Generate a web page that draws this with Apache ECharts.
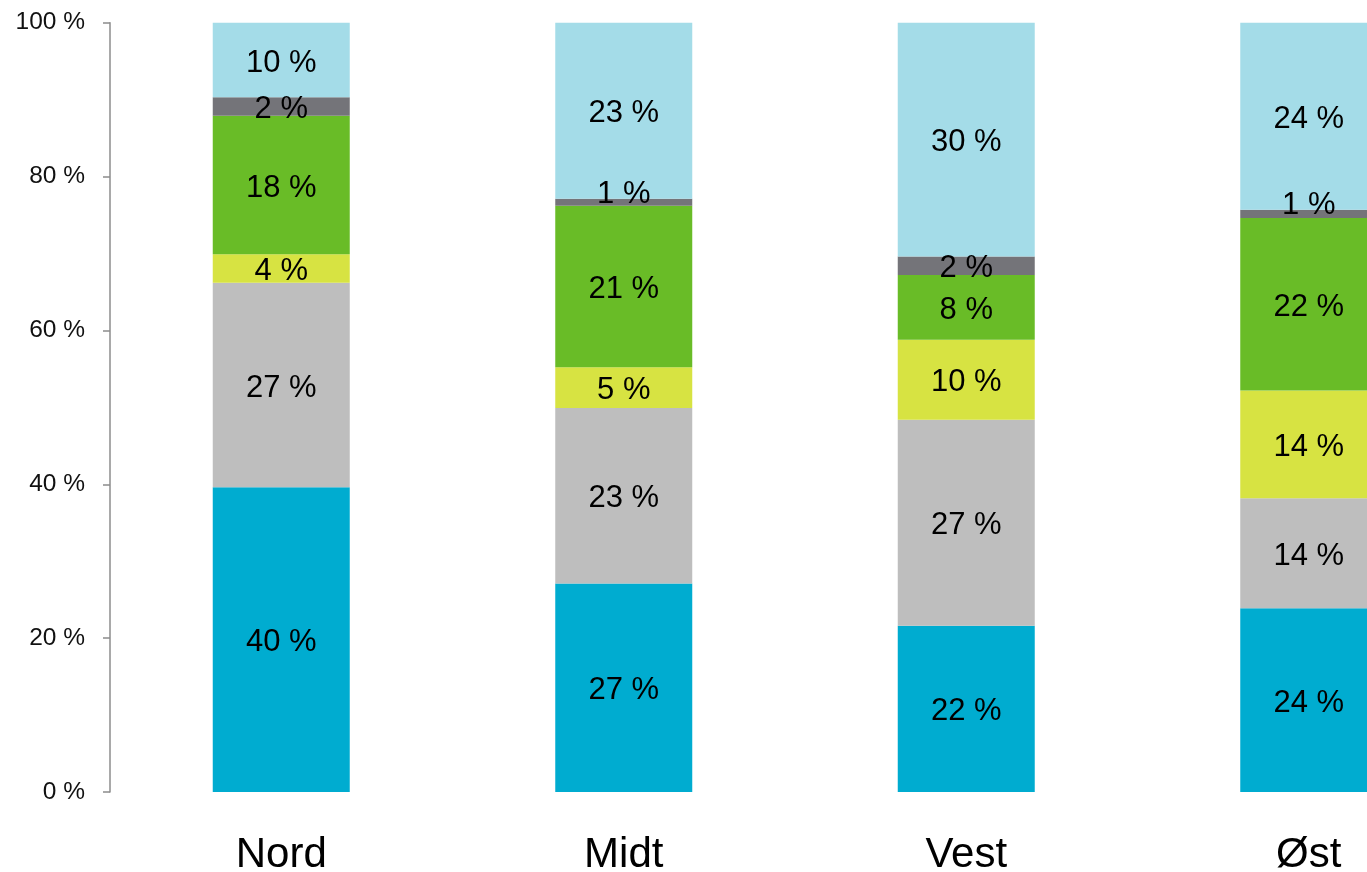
<!DOCTYPE html>
<html>
<head>
<meta charset="utf-8">
<script src="https://cdn.jsdelivr.net/npm/echarts@6/dist/echarts.min.js"></script>
<style>
html,body{margin:0;padding:0;background:#fff;}
#chart{width:1367px;height:872px;}
</style>
</head>
<body>
<div id="chart"></div>
<script>
const categories = ['Nord', 'Midt', 'Vest', 'Øst'];
// segments from bottom to top
const seriesBlue      = [39.6, 27.1, 21.6, 23.9];
const seriesGray      = [26.6, 22.8, 26.8, 14.3];
const seriesYellow    = [3.7, 5.3, 10.4, 14.0];
const seriesGreen     = [18.0, 21.0, 8.4, 22.4];
const seriesDarkGray  = [2.4, 0.9, 2.4, 1.1];
const seriesLightBlue = [9.7, 22.9, 30.4, 24.3];
const yTicks = [0, 20, 40, 60, 80, 100];

const FONT = '"Liberation Sans", Arial, sans-serif';
const layers = [
  {name: 'A', data: seriesBlue, color: '#00ACD0'},
  {name: 'B', data: seriesGray, color: '#BEBEBE'},
  {name: 'C', data: seriesYellow, color: '#D7E342'},
  {name: 'D', data: seriesGreen, color: '#69BC27'},
  {name: 'E', data: seriesDarkGray, color: '#747479'},
  {name: 'F', data: seriesLightBlue, color: '#A4DCE8'}
];

const chart = echarts.init(document.getElementById('chart'), null, {renderer: 'canvas'});
chart.setOption({
  animation: false,
  backgroundColor: '#ffffff',
  grid: {left: 110, top: 22.7, width: 1370, height: 769.3, containLabel: false, outerBoundsMode: 'none'},
  xAxis: {
    type: 'category',
    data: categories,
    axisLine: {show: false},
    axisTick: {show: false},
    axisLabel: {fontSize: 42, color: '#000', fontFamily: FONT, margin: 42}
  },
  yAxis: {
    type: 'value',
    min: yTicks[0],
    max: yTicks[yTicks.length - 1],
    interval: yTicks[1] - yTicks[0],
    splitLine: {show: false},
    axisLine: {show: true, lineStyle: {color: '#8C8C8C', width: 1.5}},
    axisTick: {show: true, inside: false, length: 7, lineStyle: {color: '#8C8C8C', width: 1.5}},
    axisLabel: {fontSize: 24.5, color: '#111', fontFamily: FONT, margin: 25, formatter: '{value} %'}
  },
  series: layers.map(l => ({
    name: l.name,
    type: 'bar',
    stack: 'total',
    barWidth: 137,
    data: l.data,
    itemStyle: {color: l.color},
    label: {
      show: true,
      position: 'inside',
      fontSize: 31,
      color: '#000',
      fontFamily: FONT,
      formatter: p => Math.round(p.value) + ' %'
    },
    labelLayout: p => ({
      hideOverlap: false,
      dy: l.data[p.dataIndex] < 1.5 ? -8 : 3
    })
  }))
});
</script>
</body>
</html>
